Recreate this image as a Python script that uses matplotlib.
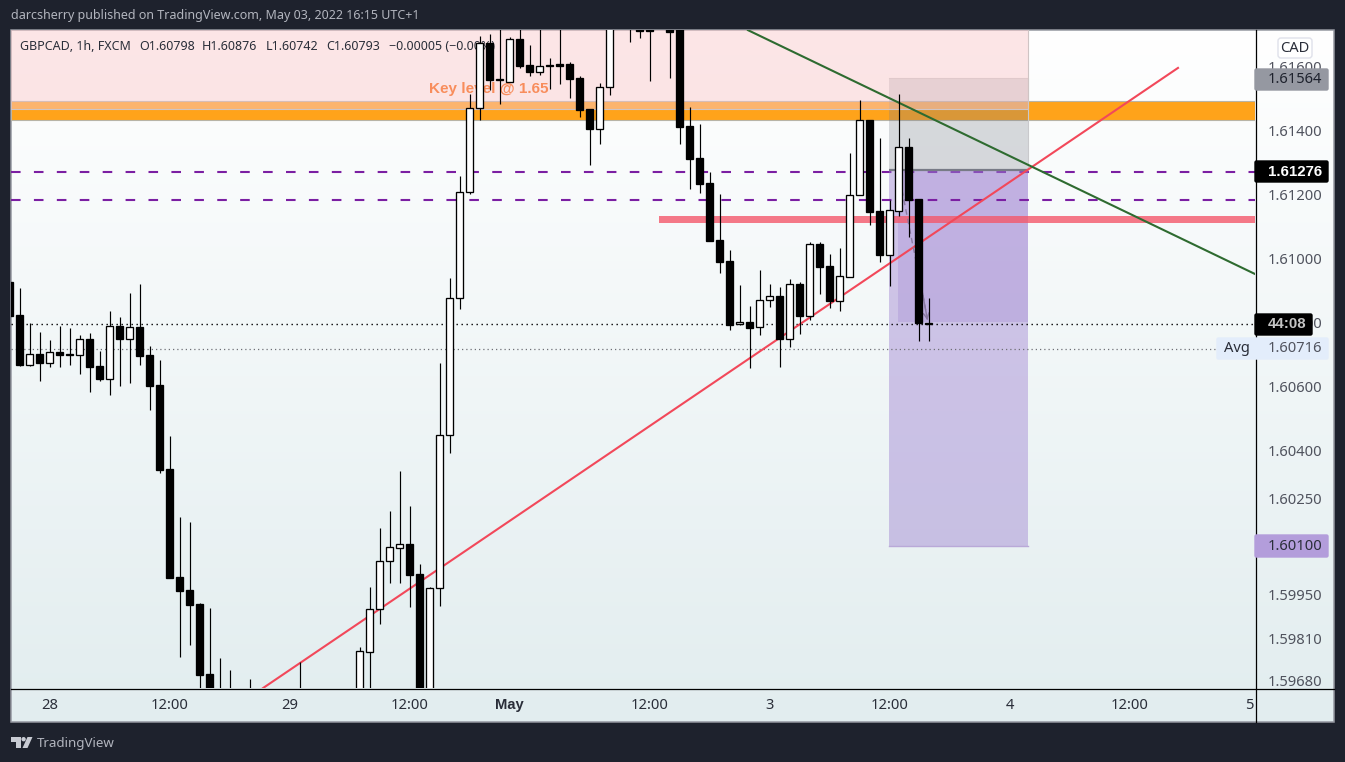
#!/usr/bin/env python3
import numpy as np
import matplotlib
matplotlib.use('Agg')
import matplotlib.pyplot as plt
from matplotlib.patches import Rectangle, FancyBboxPatch, Polygon, Circle

plt.rcParams['font.family'] = ['Noto Sans', 'DejaVu Sans']

nan = float('nan')

# hourly candles, first one starts left of the chart. nan = bar is fully outside the view
opens = [1.60925, 1.60822, 1.60667, 1.60700, 1.60673, 1.60705, 1.60700, 1.60698, 1.60747, 1.60663,
         1.60623, 1.60787, 1.60748, 1.60784, 1.60697, 1.60603, 1.60341, 1.60003, 1.59963, 1.59919,
         1.59700, 1.59619, 1.59634, 1.59619, 1.59634, nan, nan, nan, nan, 1.59594,
         nan, nan, nan, nan, nan, 1.59619, 1.59770, 1.59902, 1.60052, 1.60095,
         1.60106, 1.60013, 1.59572, 1.59968, 1.60446, 1.60874, 1.61205, 1.61468, 1.61672, 1.61559,
         1.61549, 1.61684, 1.61603, 1.61582, 1.61603, 1.61605, 1.61606, 1.61563, 1.61466, 1.61404,
         1.61533, nan, 1.61759, 1.61728, 1.61728, nan, 1.61744, 1.61744, 1.61413, 1.61313,
         1.61234, 1.61056, 1.60991, 1.60793, 1.60799, 1.60783, 1.60868, 1.60881, 1.60748, 1.60919,
         1.60820, 1.61044, 1.60975, 1.60867, 1.60942, 1.61196, 1.61431, 1.61147, 1.61010, 1.61148,
         1.61347, 1.61184, 1.60798]
highs = [1.60947, 1.60906, 1.60797, 1.60769, 1.60744, 1.60787, 1.60781, 1.60759, 1.60765, 1.60709,
         1.60834, 1.60815, 1.60891, 1.60919, 1.60725, 1.60681, 1.60444, 1.60191, 1.60175, 1.59921,
         1.59906, 1.59750, 1.59713, 1.59644, 1.59684, nan, nan, nan, nan, 1.59738,
         nan, nan, nan, nan, nan, 1.59784, 1.59972, 1.60156, 1.60209, 1.60334,
         1.60225, 1.60044, 1.59973, 1.60671, 1.60937, 1.61256, 1.61513, 1.61694, 1.61700, 1.61744,
         1.61691, 1.61744, 1.61666, 1.61744, 1.61624, 1.61759, 1.61613, 1.61569, 1.61466, 1.61546,
         1.61791, nan, 1.61791, 1.61791, 1.61791, nan, 1.61775, 1.61775, 1.61472, 1.61419,
         1.61269, 1.61200, 1.61025, 1.60916, 1.60850, 1.60962, 1.60919, 1.60909, 1.60934, 1.60925,
         1.61050, 1.61050, 1.61013, 1.61031, 1.61328, 1.61494, 1.61431, 1.61375, 1.61181, 1.61513,
         1.61374, 1.61184, 1.60876]
lows = [1.60800, 1.60663, 1.60663, 1.60617, 1.60660, 1.60660, 1.60666, 1.60637, 1.60582, 1.60617,
        1.60572, 1.60600, 1.60610, 1.60666, 1.60525, 1.60329, 1.60000, 1.59754, 1.59791, 1.59588,
        1.59541, 1.59525, 1.59556, 1.59541, 1.59550, nan, nan, nan, nan, 1.59540,
        nan, nan, nan, nan, nan, 1.59572, 1.59588, 1.59857, 1.59985, 1.59985,
        1.59910, 1.59525, 1.59541, 1.59913, 1.60392, 1.60842, 1.61199, 1.61432, 1.61525, 1.61482,
        1.61549, 1.61595, 1.61570, 1.61572, 1.61529, 1.61545, 1.61501, 1.61442, 1.61292, 1.61357,
        1.61510, nan, 1.61676, 1.61688, 1.61554, nan, 1.61563, 1.61357, 1.61217, 1.61204,
        1.61054, 1.60954, 1.60775, 1.60792, 1.60656, 1.60759, 1.60848, 1.60659, 1.60723, 1.60763,
        1.60806, 1.60888, 1.60844, 1.60834, 1.60942, 1.61196, 1.61103, 1.60988, 1.60913, 1.61132,
        1.61067, 1.60742, 1.60742]
closes = [1.60819, 1.60666, 1.60699, 1.60673, 1.60705, 1.60697, 1.60697, 1.60746, 1.60659, 1.60622,
          1.60787, 1.60747, 1.60784, 1.60694, 1.60601, 1.60337, 1.60000, 1.59960, 1.59916, 1.59698,
          1.59556, 1.59572, 1.59603, 1.59588, 1.59603, nan, nan, nan, nan, 1.59570,
          nan, nan, nan, nan, nan, 1.59772, 1.59902, 1.60052, 1.60096, 1.60105,
          1.60010, 1.59556, 1.59968, 1.60446, 1.60874, 1.61205, 1.61468, 1.61673, 1.61557, 1.61555,
          1.61683, 1.61601, 1.61582, 1.61599, 1.61599, 1.61601, 1.61560, 1.61463, 1.61404, 1.61533,
          1.61775, nan, 1.61744, 1.61709, 1.61709, nan, 1.61707, 1.61410, 1.61310, 1.61232,
          1.61054, 1.60988, 1.60792, 1.60799, 1.60782, 1.60868, 1.60880, 1.60748, 1.60918, 1.60819,
          1.61043, 1.60973, 1.60866, 1.60943, 1.61196, 1.61430, 1.61145, 1.61010, 1.61149, 1.61346,
          1.61181, 1.60798, 1.60793]

# axes
x_ticks = [3, 15, 27, 39, 49, 63, 75, 87, 99, 111, 123]
x_labels = ['28', '12:00', '29', '12:00', 'May', '12:00', '3', '12:00', '4', '12:00', '5']
y_ticks = [1.616, 1.614, 1.612, 1.610, 1.608, 1.606, 1.604, 1.6025, 1.5995, 1.5981, 1.5968]

# drawings on the chart, in bar index / price
key_level = (1.61431, 1.61491)
red_level = (1.61110, 1.61132)
red_level_start = 63.95
dashed_levels = (1.61270, 1.61182)
last_price = 1.60793
avg_price = 1.60716
trend_red_x = [24.35, 115.85]
trend_red_y = [1.59656, 1.61594]
trend_green_x = [72.85, 123.55]
trend_green_y = [1.61712, 1.60950]
zone_x = (86.95, 100.85)
zone_stop = 1.61564
zone_entry = 1.61276
zone_target = 1.60100
zone_fill_x = 87.88
zone_fill_price = 1.60800
arrow_x = [88.25, 89.35, 90.25, 90.85]
arrow_y = [1.61212, 1.61037, 1.60900, 1.60797]

W, H = 1345, 762
BOLD = ['Liberation Sans', 'DejaVu Sans']
fig = plt.figure(figsize=(W / 100, H / 100), dpi=100, facecolor='#1e222d')

# pixel overlay for the panel, behind the chart
bg = fig.add_axes([0, 0, 1, 1], zorder=0)
bg.axis('off')
grad = np.linspace(0, 1, 256).reshape(-1, 1)
top, bottom = np.array([255, 255, 255]), np.array([226, 237, 239])
img = (top + (bottom - top) * grad[..., None]) / 255
bg.imshow(img, extent=(11, 1334, 722, 30), aspect='auto', zorder=1)
bg.set_xlim(0, W)
bg.set_ylim(H, 0)
bg.add_patch(Rectangle((11, 30), 1323, 692, fill=False, ec='#9598a1', lw=1.1, zorder=2))
bg.text(11, 16, 'darcsherry published on TradingView.com, May 03, 2022 16:15 UTC+1',
        color='#b2b5be', fontsize=9.0, va='center')
# logo
bg.add_patch(Polygon([(11, 737), (20.5, 737), (20.5, 748), (15.5, 748), (15.5, 741.5), (11, 741.5)],
                     fc='#c8cbd3', ec='none'))
bg.add_patch(Circle((23.6, 739.2), 2.2, fc='#c8cbd3', ec='none'))
bg.add_patch(Polygon([(27.5, 737), (32.5, 737), (27.5, 748), (22.5, 748)], fc='#c8cbd3', ec='none'))
bg.text(37, 743, 'TradingView', color='#b2b5be', fontsize=9.6, va='center')

# chart
ax = fig.add_axes([11 / W, 1 - 688 / H, (1255 - 11) / W, (688 - 30) / H], zorder=1)
ax.patch.set_alpha(0)
ax.set_xlim(-0.85, 123.55)
ax.set_ylim(1.596563, 1.617125)
for s in ax.spines.values():
    s.set_visible(False)

ax.axhspan(key_level[0], key_level[1], fc='#ffa31a', ec='#b8b4a6', lw=0.8, zorder=1)
ax.axhline(dashed_levels[0], color='#7b1fa2', lw=1.5, dashes=(4.6, 6.4), zorder=1.5)

# short position tool
ax.add_patch(Rectangle((zone_x[0], zone_entry), zone_x[1] - zone_x[0], zone_stop - zone_entry,
                       fc='#787b86', alpha=0.28, ec='none', zorder=2))
ax.add_patch(Rectangle((zone_x[0], zone_target), zone_x[1] - zone_x[0], zone_entry - zone_target,
                       fc='#9575cd', alpha=0.40, ec='none', zorder=2))
ax.add_patch(Rectangle((zone_fill_x, zone_fill_price), zone_x[1] - zone_fill_x, zone_entry - zone_fill_price,
                       fc='#9575cd', alpha=0.25, ec='none', zorder=2))
ax.plot(zone_x, [zone_entry, zone_entry], color='#787b86', lw=1.6, zorder=2.1, solid_capstyle='butt')
ax.plot(zone_x, [zone_target, zone_target], color='#b9a9d8', lw=1, zorder=2.1)
ax.plot([zone_x[0], zone_x[1], zone_x[1]], [zone_stop, zone_stop, zone_entry], color='#c9c9cc', lw=0.8, zorder=2.1)

# supply box, over the orange band and the stop zone
ax.add_patch(Rectangle((-0.85, 1.61466), zone_x[1] + 0.85, 1.6175 - 1.61466,
                       fc='#fac9cb', alpha=0.47, ec='none', zorder=2.5))
ax.plot([-0.85, zone_x[1], zone_x[1]], [1.61466, 1.61466, 1.6175], color='#cfc4c4', lw=0.8, zorder=2.6)

ax.add_patch(Rectangle((red_level_start, red_level[0]), 123.55 - red_level_start, red_level[1] - red_level[0],
                       fc='#f4576b', alpha=0.8, ec='none', zorder=3))
ax.axhline(dashed_levels[1], color='#7b1fa2', lw=1.5, dashes=(4.6, 6.4), zorder=3)
ax.axhline(last_price, color='black', lw=1, dashes=(1, 2.6), zorder=3)
ax.axhline(avg_price, color='#6f6f76', lw=0.9, dashes=(1, 2.4), zorder=3)
ax.plot(trend_red_x, trend_red_y, color='#f2485a', lw=1.5, zorder=3.2)
ax.plot(trend_green_x, trend_green_y, color='#2e6b30', lw=1.5, zorder=3.2)
ax.plot(arrow_x, arrow_y, color='#8a7aa2', lw=1, ls=(0, (4, 3)), zorder=3.3)
ax.annotate('', xy=(arrow_x[-1], arrow_y[-1]), xytext=(arrow_x[-2], arrow_y[-2]),
            arrowprops=dict(arrowstyle='->', color='#8a7aa2', lw=1), zorder=3.3)

ax.text(40.95, 1.61528, 'Key level @ 1.65', color='#f88d5c', fontsize=11, family=BOLD,
        fontweight='bold', va='center', zorder=3.4)
legend_y = 1.61661
for lx, txt in [(20, 'GBPCAD, 1h, FXCM'), (139, 'O1.60798'), (202, 'H1.60876'), (266, 'L1.60742'),
                (326, 'C1.60793'), (389, '\u22120.00005 (\u22120.00%)')]:
    ax.text((lx - 19.5) / 10, legend_y, txt, color='#2a2e39', fontsize=9.0, va='center', zorder=3.4)

# candles
bar_x = np.arange(-1, len(opens) - 1, dtype=float)
bar_x[bar_x >= 88] -= 0.1
o, h, l, c = map(np.array, (opens, highs, lows, closes))
ax.vlines(bar_x, l, h, color='black', lw=0.85, zorder=4)
up = c >= o
ax.bar(bar_x[up], (c - o)[up], bottom=o[up], width=0.62, fc='white', ec='black', lw=0.95, zorder=5)
ax.bar(bar_x[~up], (c - o)[~up], bottom=o[~up], width=0.62, fc='black', ec='black', lw=0.95, zorder=5)

ax.set_xticks(x_ticks)
ax.set_xticklabels(x_labels)
ax.yaxis.tick_right()
ax.set_yticks(y_ticks)
ax.set_yticklabels(['%.5f' % v for v in y_ticks])
ax.tick_params(axis='x', length=0, pad=7, labelsize=10.6, labelcolor='#2a2e39')
ax.tick_params(axis='y', length=0, pad=9.4, labelsize=10.6, labelcolor='#50535e')
may = ax.get_xticklabels()[4]
may.set_family(BOLD)
may.set_fontweight('bold')

# price tags and axis lines, on top of everything
fg = fig.add_axes([0, 0, 1, 1], zorder=2)
fg.set_xlim(0, W)
fg.set_ylim(H, 0)
fg.axis('off')
fg.plot([11, 1334], [688.5, 688.5], color='black', lw=0.9, zorder=1)
fg.plot([1255.5, 1255.5], [30, 722], color='black', lw=0.9, zorder=1)


def tag(y0, y1, face, text, tcolor, bold=False, x0=1255, x1=1329):
    fg.add_patch(FancyBboxPatch((x0, y0 + 1), x1 - x0 - 1, y1 - y0 - 2, boxstyle='round,pad=0,rounding_size=1.5',
                                fc=face, ec=face, lw=1, zorder=2))
    fg.text(1322, (y0 + y1) / 2, text, color=tcolor, fontsize=10.8 if bold else 10.6,
            fontweight='bold' if bold else 'normal', family=BOLD if bold else None,
            ha='right', va='center', zorder=3)


tag(68, 91, '#9598a1', '1.61564', '#1e222d')
tag(160, 183, 'black', '1.61276', 'white', True)
tag(534, 558, '#b39ddb', '1.60100', '#2a2e39')
tag(337, 360, '#e3edfb', '1.60716', '#50535e', x0=1217)
fg.text(1224, 348, 'Avg', color='#2a2e39', fontsize=10.6, va='center', zorder=3)
fg.add_patch(FancyBboxPatch((1255, 314), 57, 21, boxstyle='round,pad=0,rounding_size=1.5',
                            fc='black', ec='black', lw=1, zorder=2))
fg.text(1287.5, 324.5, '44:08', color='#c4c4c4', fontsize=10.8, family=BOLD, fontweight='bold',
        ha='center', va='center', zorder=3)
fg.add_patch(FancyBboxPatch((1278, 38), 34, 20, boxstyle='round,pad=0,rounding_size=3',
                            fc='white', ec='#dfe1ea', lw=1, zorder=2))
fg.text(1295, 48, 'CAD', color='#2a2e39', fontsize=10.6, ha='center', va='center', zorder=3)

fig.savefig('out.png', dpi=100, facecolor=fig.get_facecolor())
